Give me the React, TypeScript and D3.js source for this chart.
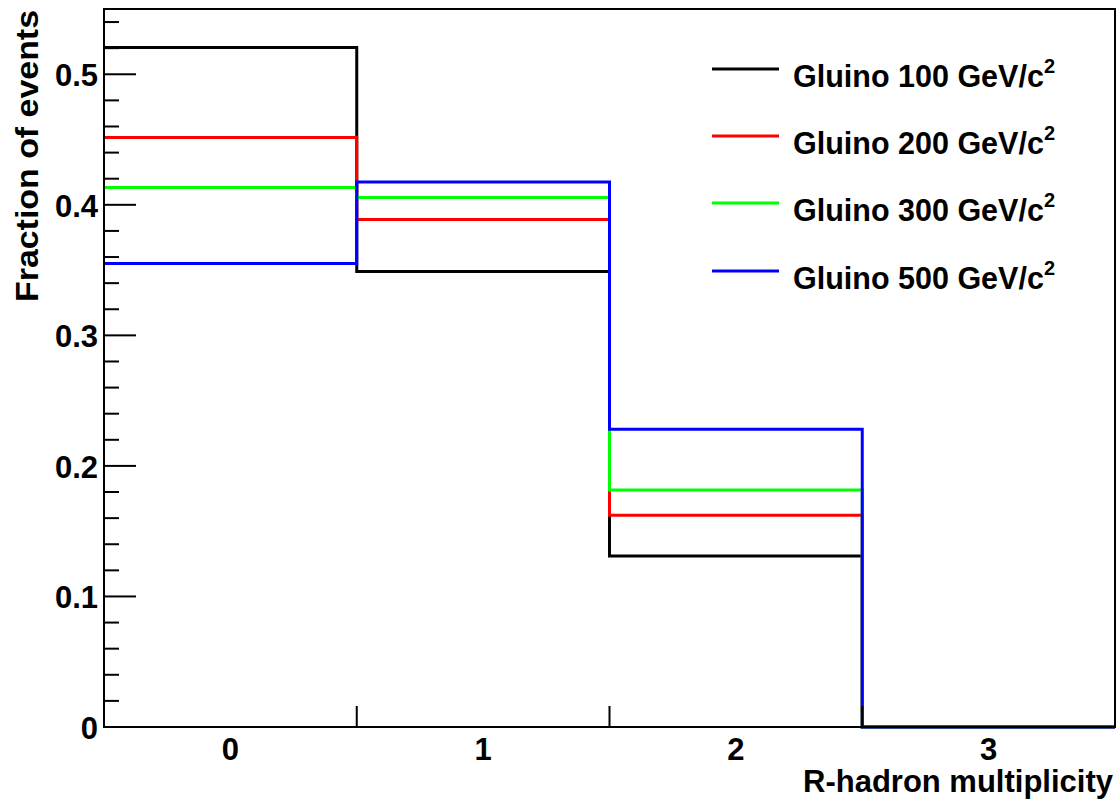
import React from "react";
import * as d3 from "d3";

// bins of R-hadron multiplicity
const bins = [0, 1, 2, 3];
const seriesNames = ["Gluino 100 GeV/c", "Gluino 200 GeV/c", "Gluino 300 GeV/c", "Gluino 500 GeV/c"];
const seriesColors = ["#000000", "#ff0000", "#00ff00", "#0000ff"];
const g100 = [0.5205, 0.349, 0.1309, 0];
const g200 = [0.4515, 0.3887, 0.1623, 0];
const g300 = [0.4132, 0.4056, 0.1815, 0];
const g500 = [0.355, 0.4175, 0.228, 0];
const seriesValues = [g100, g200, g300, g500];
const yMajorTicks = [0, 0.1, 0.2, 0.3, 0.4, 0.5];

export default function App() {
  const width = 1118;
  const height = 804;
  const margin = { left: 104, right: 3, top: 9, bottom: 77 };

  const x = d3
    .scaleLinear()
    .domain([-0.5, 3.5])
    .range([margin.left, width - margin.right]);
  const y = d3
    .scaleLinear()
    .domain([0, 0.55])
    .range([height - margin.bottom, margin.top]);

  const font = "'Liberation Sans', Arial, Helvetica, sans-serif";
  const minorTicks = d3.range(0, 0.55, 0.02).filter((v) => Math.abs(v * 10 - Math.round(v * 10)) > 1e-6);
  const edges = d3.range(-0.5, 3.6, 1);

  // step outline for each histogram
  const line = d3
    .line<[number, number]>()
    .x((d) => x(d[0]))
    .y((d) => y(d[1]));
  const stepPoints = (vals: number[]) =>
    vals.flatMap((v, i) => [
      [bins[i] - 0.5, v] as [number, number],
      [bins[i] + 0.5, v] as [number, number],
    ]);

  const legendX = 712;
  const legendY = [69, 136, 203, 271];

  return (
    <div style={{ position: "absolute", left: 0, top: 0 }}>
      <svg width={width} height={height} style={{ display: "block", background: "#fff" }} fontFamily={font}>
        {/* histograms */}
        {seriesValues.map((vals, i) => (
          <path key={i} d={line(stepPoints(vals)) || ""} fill="none" stroke={seriesColors[i]} strokeWidth={3} />
        ))}

        {/* frame */}
        <rect
          x={x(-0.5)}
          y={y(0.55)}
          width={x(3.5) - x(-0.5)}
          height={y(0) - y(0.55)}
          fill="none"
          stroke="#000"
          strokeWidth={2}
        />

        {/* y axis ticks */}
        {yMajorTicks.map((t) => (
          <g key={t}>
            <line x1={x(-0.5)} x2={x(-0.5) + 32} y1={y(t)} y2={y(t)} stroke="#000" strokeWidth={2} />
            <text
              x={x(-0.5) - 6}
              y={y(t)}
              dy="0.38em"
              textAnchor="end"
              fontSize={31}
              fontWeight="bold"
            >
              {t === 0 ? "0" : d3.format(".1f")(t)}
            </text>
          </g>
        ))}
        {minorTicks.map((t) => (
          <line key={t} x1={x(-0.5)} x2={x(-0.5) + 15} y1={y(t)} y2={y(t)} stroke="#000" strokeWidth={2} />
        ))}

        {/* x axis ticks at bin edges */}
        {edges.map((e) => (
          <line key={e} x1={x(e)} x2={x(e)} y1={y(0)} y2={y(0) - 21} stroke="#000" strokeWidth={2} />
        ))}
        {bins.map((b) => (
          <text key={b} x={x(b)} y={760} textAnchor="middle" fontSize={31} fontWeight="bold">
            {b}
          </text>
        ))}

        {/* axis titles */}
        <text x={x(3.5) - 2} y={792} textAnchor="end" fontSize={31} fontWeight="bold">
          R-hadron multiplicity
        </text>
        <text
          transform={`translate(38, 10) rotate(-90)`}
          textAnchor="end"
          fontSize={31}
          fontWeight="bold"
          textLength={292}
          lengthAdjust="spacingAndGlyphs"
        >
          Fraction of events
        </text>

        {/* legend */}
        {seriesNames.map((name, i) => (
          <g key={name}>
            <line
              x1={legendX}
              x2={legendX + 67}
              y1={legendY[i]}
              y2={legendY[i]}
              stroke={seriesColors[i]}
              strokeWidth={3}
            />
            <text x={793} y={legendY[i] + 18} fontSize={30.5} fontWeight="bold">
              {name}
              <tspan fontSize={20} dy={-14}>
                2
              </tspan>
            </text>
          </g>
        ))}
      </svg>
    </div>
  );
}
